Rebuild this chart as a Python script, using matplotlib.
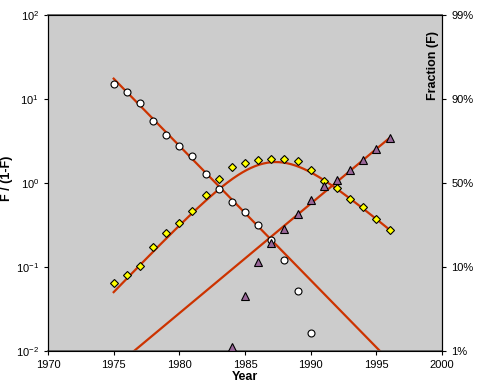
import numpy as np
import matplotlib
matplotlib.use('Agg')
import matplotlib.pyplot as plt
from matplotlib.ticker import FixedLocator, NullLocator

plt.rcParams['font.family'] = ['Liberation Sans', 'DejaVu Sans']
plt.rcParams['axes.unicode_minus'] = False

# 数据：F/(1-F) 各年数值
yr_old = [1975, 1976, 1977, 1978, 1979, 1980, 1981, 1982, 1983, 1984, 1985,
          1986, 1987, 1988, 1989, 1990]
old = [15.2, 12.1, 8.96, 5.52, 3.70, 2.78, 2.11, 1.29, 0.855, 0.594, 0.452,
       0.313, 0.210, 0.120, 0.0523, 0.0162]

yr_mid = list(range(1975, 1997))
mid = [0.064, 0.0796, 0.103, 0.174, 0.254, 0.331, 0.460, 0.72, 1.11, 1.56,
       1.75, 1.90, 1.93, 1.95, 1.81, 1.44, 1.06, 0.87, 0.65, 0.518, 0.369, 0.275]

yr_new = list(range(1984, 1997))
new = [0.0113, 0.0448, 0.114, 0.193, 0.286, 0.424, 0.628, 0.92, 1.08, 1.42,
       1.86, 2.54, 3.43]

# 拟合直线的两端 (年份, F/(1-F))
fit_old = [(1975, 17.5), (1996, 0.00764)]
fit_new = [(1975, 0.00628), (1996, 3.44)]

line_c = '#CC3300'

fig = plt.figure(figsize=(4.8, 3.92), dpi=100)
ax = fig.add_axes([0.1, 0.1046, 0.821, 0.857])
ax.set_facecolor('#CCCCCC')

# 拟合线：两条 logistic 直线，中间技术的份额 = 1 - F1 - F3
t = np.linspace(1975, 1996, 200)
def fit_line(p):
    (x0, y0), (x1, y1) = p
    return 10 ** (np.log10(y0) + (np.log10(y1) - np.log10(y0)) * (t - x0) / (x1 - x0))
r1 = fit_line(fit_old)
r3 = fit_line(fit_new)
f2 = 1 - r1 / (1 + r1) - r3 / (1 + r3)
ax.plot(t, r1, color=line_c, lw=1.6, zorder=2)
ax.plot(t, r3, color=line_c, lw=1.6, zorder=2)
ax.plot(t, f2 / (1 - f2), color=line_c, lw=1.6, zorder=2)

ax.plot(yr_old, old, 'o', ms=5, mfc='white', mec='black', mew=0.8, zorder=3)
ax.plot(yr_mid, mid, 'D', ms=4.3, mfc='#FFFF00', mec='black', mew=0.8, zorder=3)
ax.plot(yr_new, new, '^', ms=5.5, mfc='#996699', mec='black', mew=0.8, zorder=3)

ax.set_yscale('log')
ax.set_xlim(1970, 2000)
ax.set_ylim(1e-2, 1e2)
ax.set_xticks([1970, 1975, 1980, 1985, 1990, 1995, 2000])
ax.yaxis.set_minor_locator(NullLocator())
ax.tick_params(labelsize=8, length=3, direction='out', width=0.8)
ax.set_xlabel('Year', fontsize=9, fontweight='bold', labelpad=1)
ax.set_ylabel('F / (1-F)', fontsize=9, fontweight='bold')
ax.yaxis.set_label_coords(-0.089, 0.515)
for s in ['top', 'bottom']:
    ax.spines[s].set_color('#555555')
    ax.spines[s].set_linewidth(1.2)

ax2 = ax.twinx()
ax2.set_yscale('log')
ax2.set_ylim(1e-2, 1e2)
ax2.yaxis.set_major_locator(FixedLocator([1e-2, 1e-1, 1, 10, 100]))
ax2.yaxis.set_minor_locator(NullLocator())
ax2.set_yticklabels(['1%', '10%', '50%', '90%', '99%'])
ax2.tick_params(labelsize=8, length=3, direction='out', width=0.8)
ax2.text(0.977, 0.851, 'Fraction (F)', transform=ax2.transAxes, rotation=90,
         ha='center', va='center', fontsize=9, fontweight='bold')

fig.savefig('out.png', dpi=100, facecolor='white')
